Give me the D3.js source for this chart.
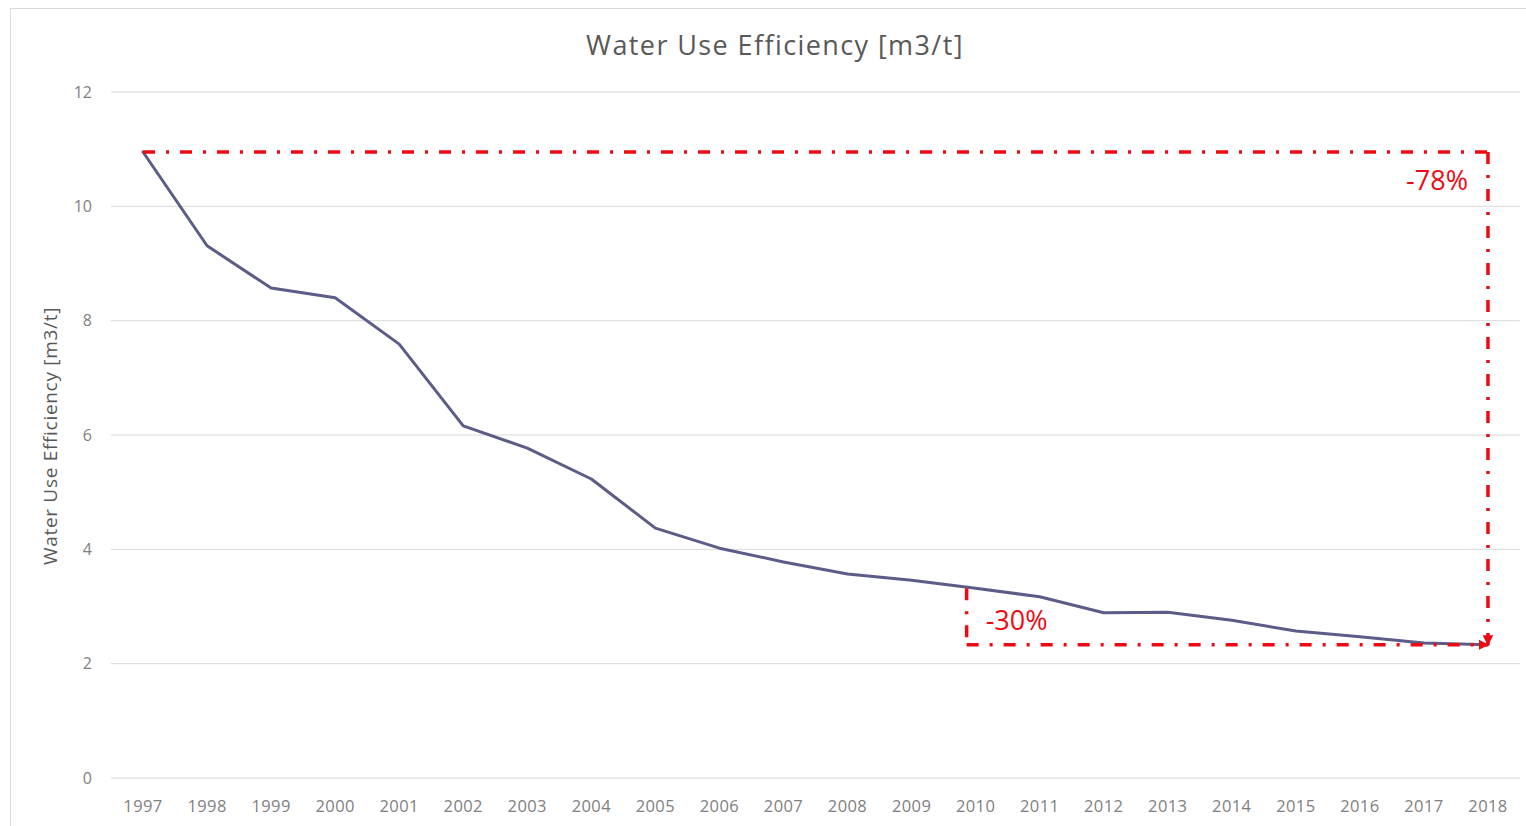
<!DOCTYPE html>
<html><head><meta charset="utf-8">
<script src="https://cdn.jsdelivr.net/npm/d3@7"></script>
<style>html,body{margin:0;padding:0;background:#fff;}svg{display:block;}</style>
</head><body>
<svg id="c" width="1526" height="826"></svg>
<script>
const years = ["1997","1998","1999","2000","2001","2002","2003","2004","2005","2006","2007","2008","2009","2010","2011","2012","2013","2014","2015","2016","2017","2018"];
const efficiency = [10.95,9.31,8.57,8.40,7.59,6.16,5.77,5.23,4.37,4.02,3.78,3.57,3.46,3.32,3.17,2.89,2.90,2.76,2.57,2.47,2.36,2.33];
const yTicks = [0,2,4,6,8,10,12];
const title = "Water Use Efficiency [m3/t]";
const yTitle = "Water Use Efficiency [m3/t]";
const labelTotal = "-78%";
const labelRecent = "-30%";

const font = "'Open Sans', Lato, sans-serif";
const svg = d3.select("#c");
const red = "#ee0a14";

// chart border
svg.append("rect").attr("x",10.5).attr("y",8.5).attr("width",1530).attr("height",830)
  .attr("fill","#fff").attr("stroke","#d9d9d9").attr("stroke-width",1);

const x = d3.scaleBand().domain(years).range([111,1520]);
const xc = d => x(d) + x.bandwidth()/2;
const y = d3.scaleLinear().domain([0,12]).range([778,92]);

// gridlines
svg.append("g").selectAll("line").data(yTicks).join("line")
  .attr("x1",111).attr("x2",1520).attr("y1",d=>y(d)).attr("y2",d=>y(d))
  .attr("stroke","#d9d9d9").attr("stroke-width",1);

// y tick labels
svg.append("g").selectAll("text").data(yTicks).join("text")
  .attr("x",92).attr("y",d=>y(d)).attr("dy","0.35em").attr("text-anchor","end")
  .attr("font-family",font).attr("font-size",16).attr("fill","#808080").text(d=>d);

// x tick labels
svg.append("g").selectAll("text").data(years).join("text")
  .attr("x",d=>xc(d)).attr("y",806).attr("dy","0.35em").attr("text-anchor","middle")
  .attr("font-family",font).attr("font-size",16.5).attr("letter-spacing",0.4).attr("fill","#808080").text(d=>d);

// title
svg.append("text").attr("x",775).attr("y",46).attr("dy","0.35em").attr("text-anchor","middle")
  .attr("font-family",font).attr("font-size",27).attr("letter-spacing",1.4).attr("fill","#595959").text(title);

// y axis title
svg.append("text").attr("transform","translate(50,436) rotate(-90)").attr("dy","0.35em")
  .attr("text-anchor","middle").attr("font-family",font).attr("font-size",19).attr("letter-spacing",0.7).attr("fill","#595959").text(yTitle);

// data line
const line = d3.line().x((d,i)=>xc(years[i])).y(d=>y(d));
svg.append("path").datum(efficiency).attr("d",line).attr("fill","none")
  .attr("stroke","#5c5c88").attr("stroke-width",3).attr("stroke-linejoin","round").attr("stroke-linecap","round");

// annotations
const defs = svg.append("defs");
defs.append("marker").attr("id","arr").attr("viewBox","0 0 10 10").attr("refX",9).attr("refY",5)
  .attr("markerWidth",3).attr("markerHeight",3).attr("orient","auto")
  .append("path").attr("d","M0,0 L10,5 L0,10 z").attr("fill",red);

const dash = "12,11,3,11";
const first = efficiency[0], last = efficiency[efficiency.length-1];
const xStart = xc(years[0]), xEnd = xc(years[years.length-1]);
const i2010 = years.indexOf("2010");
const x2010 = xc(years[i2010]) - x.bandwidth()*0.14;
const ann = svg.append("g").attr("fill","none").attr("stroke",red).attr("stroke-width",3.5).attr("stroke-dasharray",dash);
ann.append("line").attr("x1",xStart).attr("y1",y(first)).attr("x2",xEnd).attr("y2",y(first));
ann.append("line").attr("x1",xEnd).attr("y1",y(first)).attr("x2",xEnd).attr("y2",y(last)).attr("marker-end","url(#arr)");
ann.append("line").attr("x1",x2010).attr("y1",y(efficiency[i2010])).attr("x2",x2010).attr("y2",y(last));
ann.append("line").attr("x1",x2010).attr("y1",y(last)).attr("x2",xEnd).attr("y2",y(last)).attr("marker-end","url(#arr)");

svg.append("text").attr("x",xEnd-20).attr("y",181).attr("dy","0.35em").attr("text-anchor","end")
  .attr("font-family",font).attr("font-size",27).attr("fill",red).text(labelTotal);
svg.append("text").attr("x",x2010+19).attr("y",621).attr("dy","0.35em").attr("text-anchor","start")
  .attr("font-family",font).attr("font-size",27).attr("fill",red).text(labelRecent);
</script>
</body></html>
